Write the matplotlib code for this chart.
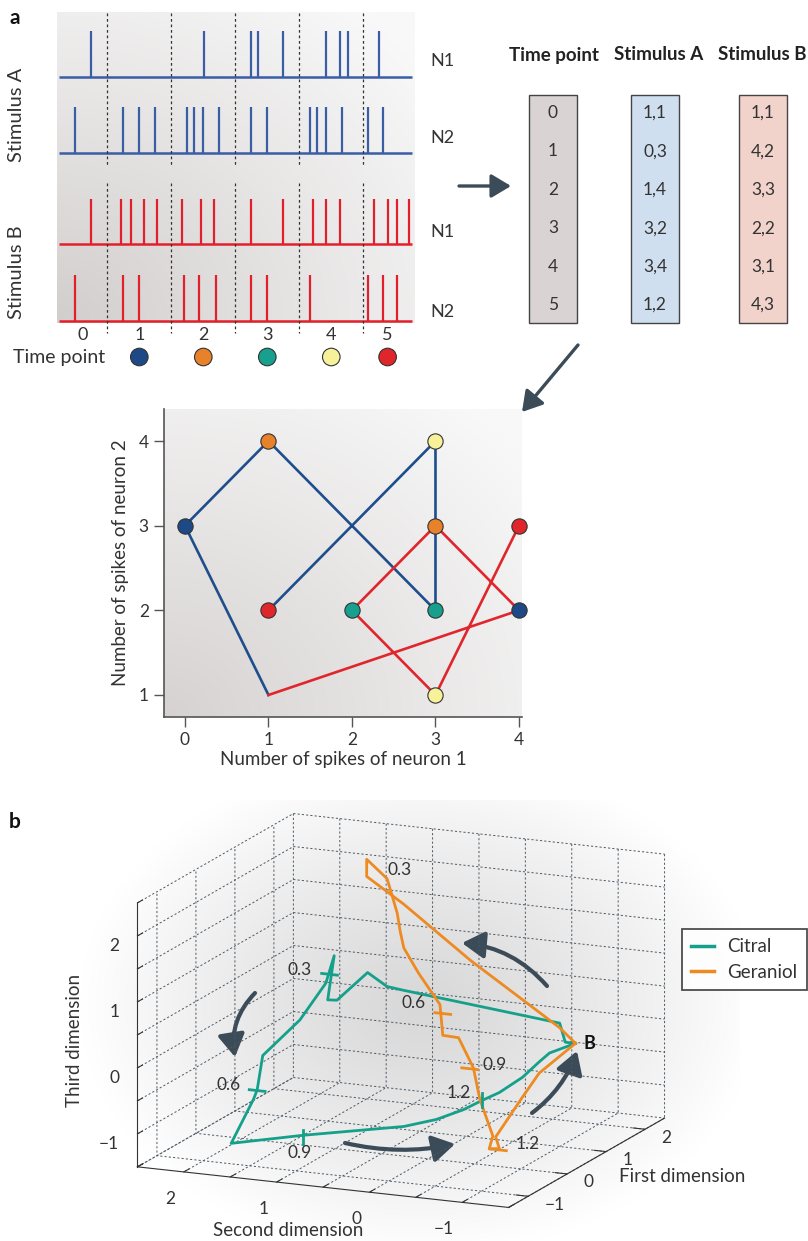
import numpy as np
import matplotlib
matplotlib.use("Agg")
import matplotlib.pyplot as plt
from matplotlib.patches import Rectangle, FancyArrowPatch, ArrowStyle
from matplotlib.lines import Line2D
from matplotlib.transforms import Affine2D

plt.rcParams['font.family'] = ['Lato', 'DejaVu Sans']
plt.rcParams['axes.unicode_minus'] = True

W, H, DPI = 808, 1241, 100
TXT = '#333333'
BLUE = '#3a5da6'
RED = '#e2202b'
NAVY = '#1e4e8c'
RED2 = '#e0262c'
TEAL = '#14a08a'
ORANGE = '#ee8a22'
ARROW = '#3b4b57'
TP_COLORS = ['#1d4a87', '#e8822a', '#17a08e', '#f7f19a', '#e0262a']

# ---------------- data: panel a (spike rasters, times in time-bin units) ----------------
spk_A_N1 = [0.75, 2.51, 3.25, 3.36, 3.75, 4.41, 4.63, 4.76, 5.25]
spk_A_N2 = [0.50, 1.25, 1.50, 1.75, 2.25, 2.36, 2.50, 2.75, 3.25, 3.50,
            4.17, 4.28, 4.42, 4.67, 5.08, 5.31]
spk_B_N1 = [0.75, 1.21, 1.37, 1.58, 1.78, 2.17, 2.47, 2.67, 3.25, 3.75,
            4.22, 4.41, 4.63, 5.17, 5.38, 5.52, 5.72]
spk_B_N2 = [0.50, 1.25, 1.50, 2.20, 2.44, 2.70, 3.25, 3.50, 4.17, 5.08, 5.31, 5.52]
bin_edges = [1, 2, 3, 4, 5]
bin_centers = [0.62, 1.5, 2.5, 3.5, 4.5, 5.38]
time_points = [0, 1, 2, 3, 4, 5]

# spike counts (neuron 1, neuron 2) per time point
stimA_n1 = [1, 0, 1, 3, 3, 1]
stimA_n2 = [1, 3, 4, 2, 4, 2]
stimB_n1 = [1, 4, 3, 2, 3, 4]
stimB_n2 = [1, 2, 3, 2, 1, 3]

# ---------------- data: panel b (3D trajectories) ----------------
citral_1 = [1, 1, 1, 0.5, 0.5, 0.5, 0.5, 0.5, 0.5, 0.5, 0, 0, 0, 0, 0, -1, -1,
            -0.5, -0.5, 0, 0, 0.5, 0.5, 1, 1, 1]
citral_2 = [-1.17, -1.06, -1.00, 0.47, 0.65, 0.86, 1.19, 1.29, 1.22, 1.31, 1.38, 1.50,
            1.78, 1.84, 1.88, 1.70, 0.93, 0.05, -0.30, -0.38, -0.58, -0.56, -0.81,
            -0.78, -0.89, -1.17]
citral_3 = [0.09, 0.09, 0.37, 0.81, 0.84, 1.02, 0.55, 0.54, 1.22, 0.79, 0.39, 0.21,
            -0.21, -0.74, -0.89, -1.19, -0.95, -0.85, -0.69, -0.70, -0.53, -0.58,
            -0.31, -0.25, -0.10, 0.09]
geraniol_1 = [1, 1, 1.5, 2, 2, 2, 2, 2, 2, 2, 1.5, 1.5, 1.5, 1.5, 1.5, 1, 1,
              0.5, 0.5, 0.5, 0.5, 1, 1, 1]
geraniol_2 = [-1.17, -1.00, 0.17, 1.10, 1.50, 1.50, 1.28, 1.23, 1.17, 1.14, 0.89, 0.73,
              0.50, 0.47, 0.30, -0.07, -0.14, -0.49, -0.45, -0.56, -0.52, -0.60,
              -0.78, -1.17]
geraniol_3 = [0.09, 0.30, 0.97, 1.51, 1.87, 2.13, 1.87, 1.64, 1.36, 1.10, 1.05, 0.69,
              0.25, -0.21, -0.22, -0.45, -0.92, -1.25, -1.45, -1.43, -1.26, -0.81,
              -0.42, 0.09]
time_labels = ['0.3', '0.6', '0.9', '1.2']
citral_mark_1 = [0.5, 0, -1, 0]
citral_mark_2 = [1.27, 1.84, 0.93, -0.58]
citral_mark_3 = [0.93, -0.75, -0.97, -0.52]
citral_mark_dir = ['h', 'h', 'v', 'v']
citral_lab_1 = [0.5, 0, -1, 0]
citral_lab_2 = [1.59, 2.15, 0.96, -0.33]
citral_lab_3 = [0.95, -0.71, -1.22, -0.45]
geraniol_mark_1 = [1.5, 1, 0.5]
geraniol_mark_2 = [0.47, -0.03, -0.55]
geraniol_mark_3 = [0.12, -0.47, -1.45]
geraniol_lab_1 = [2, 1.5, 1, 0.5]
geraniol_lab_2 = [1.15, 0.79, -0.30, -0.86]
geraniol_lab_3 = [2.02, 0.23, -0.37, -1.31]
baseline_B = (1, -1.32, 0.11)

# ---------------- figure ----------------
fig = plt.figure(figsize=(W / DPI, H / DPI), dpi=DPI)
fig.patch.set_facecolor('white')
PX = Affine2D().scale(1.0 / W, -1.0 / H).translate(0, 1) + fig.transFigure


def frect(x0, y0, x1, y1):
    return [x0 / W, 1 - y1 / H, (x1 - x0) / W, (y1 - y0) / H]


def hex2rgb(h):
    h = h.lstrip('#')
    return np.array([int(h[i:i + 2], 16) / 255 for i in (0, 2, 4)])


def bg_corner(x0, y0, x1, y1, dark, light):
    b = fig.add_axes(frect(x0, y0, x1, y1), zorder=0)
    b.axis('off')
    n = 300
    gx, gy = np.meshgrid(np.linspace(0, 1, n), np.linspace(0, 1, n))
    t = np.clip(np.sqrt(gx ** 2 + gy ** 2) / 1.3, 0, 1)
    img = hex2rgb(dark)[None, None, :] * (1 - t)[..., None] + hex2rgb(light)[None, None, :] * t[..., None]
    b.imshow(img, extent=(0, 1, 0, 1), origin='lower', aspect='auto', interpolation='bilinear')
    b.set_xlim(0, 1)
    b.set_ylim(0, 1)


def bg_glow(x0, y0, x1, y1, cx, cy, rx, ry, dark):
    b = fig.add_axes(frect(x0, y0, x1, y1), zorder=0)
    b.axis('off')
    nx, ny = 300, 200
    px = np.linspace(x0, x1, nx)
    py = np.linspace(y0, y1, ny)
    gx, gy = np.meshgrid(px, py)
    r = np.sqrt(((gx - cx) / rx) ** 2 + ((gy - cy) / ry) ** 2)
    t = np.clip(r, 0, 1) ** 1.2
    img = hex2rgb(dark)[None, None, :] * (1 - t)[..., None] + np.ones(3)[None, None, :] * t[..., None]
    b.imshow(img, extent=(0, 1, 0, 1), origin='upper', aspect='auto', interpolation='bilinear')
    b.set_xlim(0, 1)
    b.set_ylim(0, 1)


def ptext(x, y, s, **kw):
    """Figure text placed at pixel (x, y) measured from the top-left corner."""
    kw.setdefault('color', TXT)
    return fig.text(x / W, 1 - y / H, s, **kw)


# backgrounds
bg_corner(57, 12, 415, 323, '#d2cecd', '#f8f8f8')
bg_corner(164, 409, 522, 717, '#d6d2d1', '#f8f8f8')
bg_glow(60, 800, 740, 1241, 420, 1005, 340, 250, '#d8d8d8')

# ---------------- panel a: raster ----------------
axr = fig.add_axes(frect(57, 12, 415, 323), zorder=2)
axr.set_xlim(0.214, 5.808)
axr.set_ylim(311, 0)
axr.axis('off')
rows = [(spk_A_N1, 64.7, BLUE), (spk_A_N2, 141, BLUE),
        (spk_B_N1, 232.3, RED), (spk_B_N2, 308.7, RED)]
for spk, base, col in rows:
    axr.vlines(spk, base - 45.5, base, color=col, lw=1.6, clip_on=False)
    axr.hlines(base, 0.245, 5.76, color=col, lw=1.8, clip_on=False)
for e in bin_edges:
    axr.plot([e, e], [1, 155], ls=(0, (2.2, 2.2)), color='#333333', lw=0.9, clip_on=False)
    axr.plot([e, e], [171, 321], ls=(0, (2.2, 2.2)), color='#333333', lw=0.9, clip_on=False)
for c, tp in zip(bin_centers, time_points):
    axr.text(c, 323, str(tp), ha='center', va='center', fontsize=13, color=TXT)
axr.scatter(bin_centers[1:], [345] * 5, s=160, c=TP_COLORS, edgecolors='#333333',
            linewidths=0.8, clip_on=False, zorder=5)
ptext(13, 357, 'Time point', ha='left', va='center', fontsize=14)
ptext(17, 115, 'Stimulus A', rotation=90, ha='center', va='center', fontsize=14.5)
ptext(17, 272, 'Stimulus B', rotation=90, ha='center', va='center', fontsize=14.5)
for lab, yy in zip(['N1', 'N2', 'N1', 'N2'], [61, 138, 232, 312]):
    ptext(430, yy, lab, ha='left', va='center', fontsize=13)
ptext(9, 18, 'a', ha='left', va='center', fontsize=15, weight='bold', color='#111111')
ptext(9, 822, 'b', ha='left', va='center', fontsize=15, weight='bold', color='#111111')

# ---------------- panel a: scatter ----------------
axs = fig.add_axes(frect(164, 409, 522, 717), zorder=2)
axs.set_facecolor('none')
axs.set_xlim(-0.251, 4.036)
axs.set_ylim(0.740, 4.378)
for s in ('top', 'right'):
    axs.spines[s].set_visible(False)
for s in ('left', 'bottom'):
    axs.spines[s].set_color('#555555')
    axs.spines[s].set_linewidth(1.2)
axs.set_xticks([0, 1, 2, 3, 4])
axs.set_yticks([1, 2, 3, 4])
axs.tick_params(direction='out', length=7, width=1, color='#555555', labelsize=12.5,
                labelcolor=TXT, pad=4)
axs.set_xlabel('Number of spikes of neuron 1', fontsize=13.5, color=TXT, labelpad=2)
axs.set_ylabel('Number of spikes of neuron 2', fontsize=13.5, color=TXT, labelpad=7)
axs.plot(stimA_n1, stimA_n2, color=NAVY, lw=1.9, zorder=2, solid_joinstyle='miter')
axs.plot(stimB_n1, stimB_n2, color=RED2, lw=1.9, zorder=2, solid_joinstyle='miter')
for i in range(1, 6):
    for xs, ys in ((stimA_n1, stimA_n2), (stimB_n1, stimB_n2)):
        axs.plot(xs[i], ys[i], 'o', ms=11, mfc=TP_COLORS[i - 1], mec='#333333', mew=0.8,
                 zorder=4, clip_on=False)

# ---------------- panel b: 3D ----------------
S = 424.0
cxp, cyp = 401.0, 1010.5
ax3 = fig.add_axes(frect(cxp - 0.5135 * S, cyp + 0.5135 * S - S, cxp - 0.5135 * S + S, cyp + 0.5135 * S),
                   projection='3d', zorder=3)
ax3.set_proj_type('ortho')
ax3.set_xlim(-1.5, 2.5)
ax3.set_ylim(-1.5, 2.5)
ax3.set_zlim(-1.5, 2.5)
ax3.set_box_aspect((1, 1.04, 0.7), zoom=1.43)
ax3.view_init(elev=14.5, azim=-156.4)
ax3.set_facecolor('none')
for axis in (ax3.xaxis, ax3.yaxis, ax3.zaxis):
    axis.set_pane_color((1, 1, 1, 0))
    axis.pane.set_edgecolor('#8a96a0')
    axis.pane.set_linewidth(0.8)
    axis._axinfo['grid'].update(color='#4d5963', linewidth=0.7, linestyle=(0, (2.2, 2.2)))
    axis._axinfo['tick'].update(inward_factor=0.0, outward_factor=0.4)
    axis._axinfo['axisline'].update(color='#333333', linewidth=1.0)
    axis.line.set_color('#333333')

half = [-1.5, -1.0, -0.5, 0.0, 0.5, 1.0, 1.5, 2.0, 2.5]
lab_half = ['' if v != int(v) or abs(v) > 2 else ('\u22121' if v == -1 else str(int(v))) for v in half]
ax3.set_xticks([-1, 0, 1, 2])
ax3.set_xticklabels(['\u22121', '0', '1', '2'], ha='left', va='baseline')
ax3.set_yticks(half)
ax3.set_yticklabels(lab_half, ha='right')
ax3.set_zticks(half)
ax3.set_zticklabels(lab_half, ha='right')
ax3.tick_params(labelsize=12.5, colors=TXT)
ax3.tick_params(axis='x', pad=-1)
ax3.tick_params(axis='y', pad=0.5)
ax3.tick_params(axis='z', pad=-2.5)

ax3.plot(citral_1, citral_2, citral_3, color=TEAL, lw=2.0, label='Citral')
ax3.plot(geraniol_1, geraniol_2, geraniol_3, color=ORANGE, lw=2.0, label='Geraniol')
dh, dv = 0.085, 0.105
for x, y, z, d in zip(citral_mark_1, citral_mark_2, citral_mark_3, citral_mark_dir):
    if d == 'h':
        ax3.plot([x, x], [y - dh, y + dh], [z, z], color=TEAL, lw=2.0)
    else:
        ax3.plot([x, x], [y, y], [z - dv, z + dv], color=TEAL, lw=2.0)
for x, y, z in zip(geraniol_mark_1, geraniol_mark_2, geraniol_mark_3):
    ax3.plot([x, x], [y - dh, y + dh], [z, z], color=ORANGE, lw=2.0)
for x, y, z, s in zip(citral_lab_1, citral_lab_2, citral_lab_3, time_labels):
    ax3.text(x, y, z, s, ha='center', va='center', fontsize=12.5, color=TXT)
for x, y, z, s in zip(geraniol_lab_1, geraniol_lab_2, geraniol_lab_3, time_labels):
    ax3.text(x, y, z, s, ha='center', va='center', fontsize=12.5, color=TXT)
ax3.text(*baseline_B, 'B', ha='center', va='center', fontsize=13, weight='bold', color='#111111')

ptext(682, 1176, 'First dimension', ha='center', va='center', fontsize=13.5)
ptext(288, 1230, 'Second dimension', ha='center', va='center', fontsize=13.5)
ptext(75, 1040, 'Third dimension', rotation=90, ha='center', va='center', fontsize=13.5)

handles = [Line2D([0], [0], color=TEAL, lw=2.5), Line2D([0], [0], color=ORANGE, lw=2.5)]
leg = fig.legend(handles, ['Citral', 'Geraniol'], loc='upper left',
                 bbox_to_anchor=(682 / W, 1 - 929 / H), fontsize=13.5, frameon=True,
                 fancybox=False, edgecolor='#222222', handlelength=1.2, handletextpad=0.7,
                 borderpad=0.5, labelspacing=0.45, borderaxespad=0)
leg.get_frame().set_linewidth(1.3)
for t in leg.get_texts():
    t.set_color(TXT)

# ---------------- table and arrows (figure pixel coordinates) ----------------
col_x = [529, 631, 739]
col_fc = ['#d9d4d3', '#cfdff0', '#f2d3cb']
headers = ['Time point', 'Stimulus A', 'Stimulus B']
header_x = [554, 659, 762]
col_vals = [[str(t) for t in time_points],
            ['%d,%d' % (a, b) for a, b in zip(stimA_n1, stimA_n2)],
            ['%d,%d' % (a, b) for a, b in zip(stimB_n1, stimB_n2)]]
for x0, fc, hx, hd, vals in zip(col_x, col_fc, header_x, headers, col_vals):
    fig.add_artist(Rectangle((x0, 95), 48, 228, facecolor=fc, edgecolor='#444444', lw=1.0,
                             transform=PX))
    ptext(hx, 55, hd, ha='center', va='center', fontsize=13.5, weight='bold', color='#222222')
    for i, v in enumerate(vals):
        ptext(x0 + 24, 113 + 38.4 * i, v, ha='center', va='center', fontsize=12.5)


def arrow(p0, p1, rad=0.0, lw=3.0, ms=18):
    a = FancyArrowPatch(p0, p1, connectionstyle='arc3,rad=%f' % rad,
                        arrowstyle=ArrowStyle('-|>', head_length=0.75, head_width=0.45),
                        mutation_scale=ms, lw=lw, color=ARROW, shrinkA=0, shrinkB=0,
                        transform=PX)
    fig.add_artist(a)


arrow((459, 186), (511, 186), 0.0, lw=2.4, ms=16)
arrow((578, 345), (522, 412), 0.0, lw=2.4, ms=16)
arrow((547, 986), (462, 943), 0.2)
arrow((255, 993), (235, 1057), 0.25)
arrow((345, 1143), (455, 1144), 0.11)
arrow((532, 1113), (577, 1051), 0.15)

fig.savefig('out.png', dpi=DPI, facecolor='white')
